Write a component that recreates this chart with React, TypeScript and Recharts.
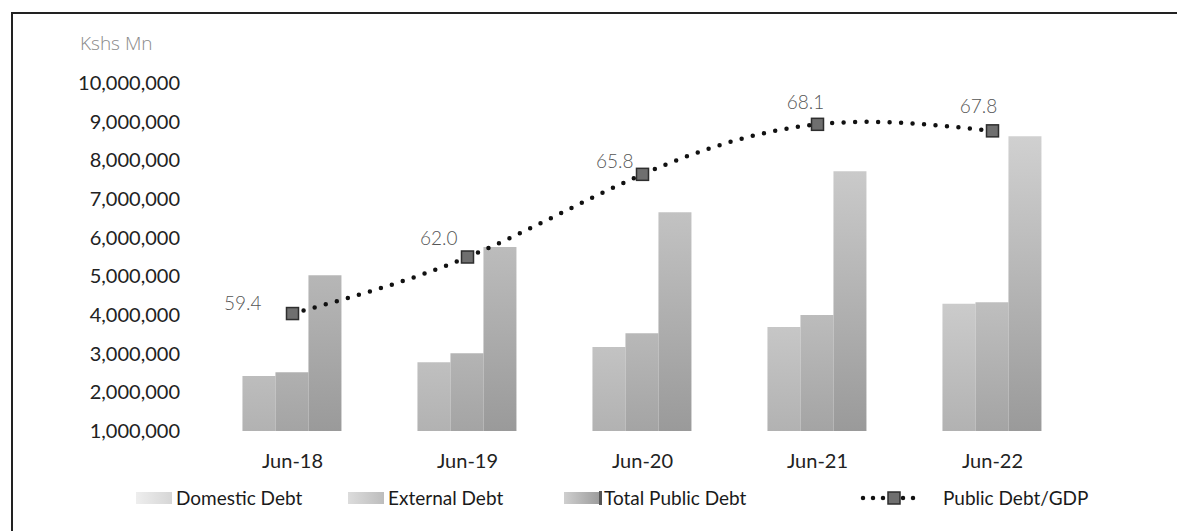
import { Bar, ComposedChart, Legend, LabelList, Line, XAxis, YAxis } from 'recharts';

const periods = ['Jun-18', 'Jun-19', 'Jun-20', 'Jun-21', 'Jun-22'];
const domesticDebt = [2420000, 2780000, 3170000, 3690000, 4290000];
const externalDebt = [2520000, 3010000, 3530000, 4000000, 4330000];
const totalDebt = [5030000, 5760000, 6660000, 7720000, 8620000];
const debtToGdp = [59.4, 62.0, 65.8, 68.1, 67.8];
const yTicks = [1000000, 2000000, 3000000, 4000000, 5000000, 6000000, 7000000, 8000000, 9000000, 10000000];

const data = periods.map((p, i) => ({
  period: p,
  domestic: domesticDebt[i],
  external: externalDebt[i],
  total: totalDebt[i],
  ratio: debtToGdp[i],
}));

const FONT = 'Lato, "Open Sans", sans-serif';

// label placement per point (dx from marker to text anchor, dy to baseline)
const labelPlace = [
  { dx: -31, dy: -4, anchor: 'end' },
  { dx: -10, dy: -12, anchor: 'end' },
  { dx: -9, dy: -6, anchor: 'end' },
  { dx: -12, dy: -15, anchor: 'middle' },
  { dx: -14, dy: -18, anchor: 'middle' },
];

const SquareDot = (props: any) => {
  const { cx, cy } = props;
  if (cx == null || cy == null) return null;
  return <rect x={cx - 6} y={cy - 6} width={12} height={12} fill="#6f6f6f" stroke="#2e2e2e" strokeWidth={1.5} />;
};

const RatioLabel = (props: any) => {
  const { x, y, value, index } = props;
  const p = labelPlace[index] || labelPlace[0];
  return (
    <text x={x + p.dx} y={y + p.dy} textAnchor={p.anchor} fill="#555" fontSize={19} fontFamily={FONT} fontWeight={300}>
      {Number(value).toFixed(1)}
    </text>
  );
};

const LegendBox = () => {
  const txt: React.CSSProperties = { position: 'absolute', top: 0, fontSize: 19, color: '#1a1a1a', fontFamily: FONT, lineHeight: '28px' };
  const sw = (left: number, c1: string, c2: string): React.CSSProperties => ({
    position: 'absolute', left, top: 8, width: 36, height: 12, background: `linear-gradient(90deg, ${c1}, ${c2})`,
  });
  return (
    <div style={{ position: 'relative', width: 1177, height: 28 }}>
      <div style={sw(136, '#eeeeee', '#d6d6d6')} />
      <div style={{ ...txt, left: 176 }}>Domestic Debt</div>
      <div style={sw(348, '#dcdcdc', '#bdbdbd')} />
      <div style={{ ...txt, left: 388 }}>External Debt</div>
      <div style={sw(564, '#cfcfcf', '#9c9c9c')} />
      <div style={{ position: 'absolute', left: 599, top: 7, width: 3, height: 14, background: '#555' }} />
      <div style={{ ...txt, left: 604 }}>Total Public Debt</div>
      <svg style={{ position: 'absolute', left: 855, top: 0 }} width={75} height={28}>
        <line x1={8} y1={14} x2={66} y2={14} stroke="#111" strokeWidth={4.5} strokeLinecap="round" strokeDasharray="0 10" />
        <rect x={33} y={8} width={12} height={12} fill="#6f6f6f" stroke="#2e2e2e" strokeWidth={1.5} />
      </svg>
      <div style={{ ...txt, left: 943 }}>Public Debt/GDP</div>
    </div>
  );
};

export default function App() {
  return (
    <div style={{ position: 'absolute', left: 0, top: 0, width: 1177, height: 531, overflow: 'hidden', background: '#fff' }}>
      <div style={{ position: 'absolute', left: 11, top: 12, width: 1200, height: 600, border: '2px solid #222', boxSizing: 'border-box' }} />
      <div style={{ position: 'absolute', left: 80, top: 30, fontSize: 19, color: '#8a8a8a', fontFamily: '"Open Sans", sans-serif', fontWeight: 300 }}>
        Kshs Mn
      </div>
      <ComposedChart
        width={1177}
        height={531}
        data={data}
        margin={{ top: 83, right: 97, bottom: 60, left: 0 }}
        barCategoryGap="21.4%"
        barGap={0}
      >
        <defs>
          <linearGradient id="gDom" x1="0" y1="83" x2="0" y2="431" gradientUnits="userSpaceOnUse">
            <stop offset="0.3" stopColor="#e2e2e2" />
            <stop offset="1" stopColor="#b2b2b2" />
          </linearGradient>
          <linearGradient id="gExt" x1="0" y1="83" x2="0" y2="431" gradientUnits="userSpaceOnUse">
            <stop offset="0.3" stopColor="#d6d6d6" />
            <stop offset="1" stopColor="#a4a4a4" />
          </linearGradient>
          <linearGradient id="gTot" x1="0" y1="83" x2="0" y2="431" gradientUnits="userSpaceOnUse">
            <stop offset="0" stopColor="#dadada" />
            <stop offset="1" stopColor="#9a9a9a" />
          </linearGradient>
        </defs>
        <XAxis
          dataKey="period"
          axisLine={false}
          tickLine={false}
          tickMargin={17}
          height={40}
          tick={{ fill: '#222', fontSize: 20, fontFamily: FONT }}
        />
        <YAxis
          yAxisId="left"
          domain={[1000000, 10000000]}
          ticks={yTicks}
          width={205}
          axisLine={false}
          tickLine={false}
          tickMargin={19}
          interval={0}
          tickFormatter={(v: number) => v.toLocaleString('en-US')}
          tick={{ fill: '#222', fontSize: 20, fontFamily: FONT }}
        />
        <YAxis yAxisId="right" orientation="right" domain={[54, 70]} hide />
        <Bar yAxisId="left" dataKey="domestic" name="Domestic Debt" fill="url(#gDom)" isAnimationActive={false} />
        <Bar yAxisId="left" dataKey="external" name="External Debt" fill="url(#gExt)" isAnimationActive={false} />
        <Bar yAxisId="left" dataKey="total" name="Total Public Debt" fill="url(#gTot)" isAnimationActive={false} />
        <Line
          yAxisId="right"
          type="natural"
          dataKey="ratio"
          name="Public Debt/GDP"
          stroke="#111"
          strokeWidth={4.5}
          strokeLinecap="round"
          strokeDasharray="0 11.5"
          dot={<SquareDot />}
          activeDot={false}
          isAnimationActive={false}
        >
          <LabelList dataKey="ratio" content={<RatioLabel />} />
        </Line>
        <Legend
          layout="horizontal"
          verticalAlign="middle"
          align="center"
          content={<LegendBox />}
          wrapperStyle={{ top: 484, left: 0, width: 1177 }}
        />
      </ComposedChart>
    </div>
  );
}
